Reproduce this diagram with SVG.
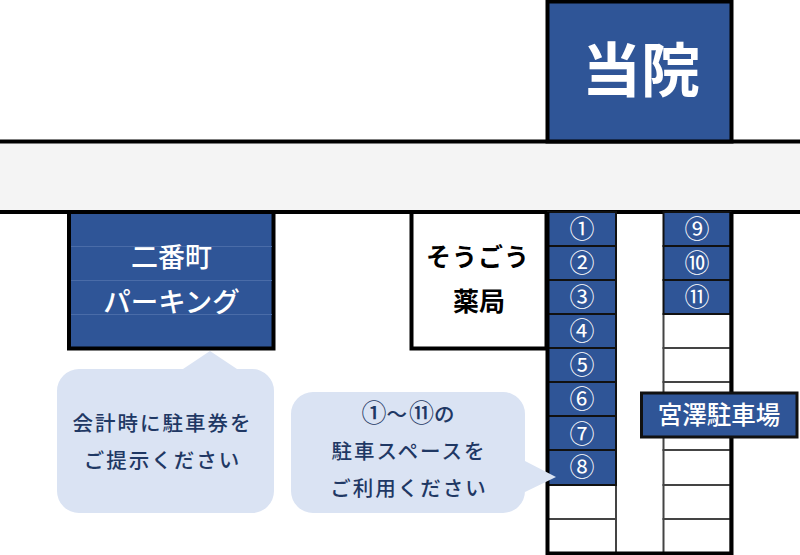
<svg xmlns="http://www.w3.org/2000/svg" width="800" height="555" viewBox="0 0 800 555">
<style>
text{font-family:"Noto Sans CJK JP","Noto Sans",sans-serif;text-anchor:middle}
.w{fill:#fff;font-weight:500}
.b{fill:#000;font-weight:700}
.n{fill:#fff;font-size:25px;font-weight:400}
.d{fill:#1f3864;font-size:20.500px;font-weight:500;letter-spacing:2px}
.c{font-size:25px;letter-spacing:0}
.slot{fill:#2f5597;stroke:#111;stroke-width:2}
.empty{fill:#fff;stroke:#444;stroke-width:2}
.bk{stroke:#000;stroke-width:4;fill:none}
.bub{fill:#dae3f3}
</style>
<rect width="800" height="555" fill="#fff"/>
<g id="road">
<rect x="0" y="141" width="800" height="71" fill="#f4f4f4"/>
<path class="bk" d="M0 141.500H800M0 212H800"/>
</g>
<g id="hospital">
<rect x="547.500" y="1.500" width="184" height="140" fill="#2f5597" stroke="#000" stroke-width="4"/>
<text class="w" style="font-weight:700" x="641" y="92" font-size="59">当院</text>
</g>
<g id="parking">
<rect x="69" y="212" width="204.500" height="136.500" fill="#2f5597" stroke="#000" stroke-width="4"/>
<path d="M71 246.500H272M71 280.500H272M71 314.500H272" stroke="#4a6ca8" stroke-width="1"/>
<text class="w" x="171.500" y="267" font-size="27">二番町</text>
<text class="w" x="171.500" y="312" font-size="27.500">パーキング</text>
</g>
<g id="pharmacy">
<rect x="411.500" y="212" width="135" height="136.500" fill="#fff" stroke="#000" stroke-width="4"/>
<text class="b" x="478" y="266" font-size="25" letter-spacing="1">そうごう</text>
<text class="b" x="479" y="311" font-size="26">薬局</text>
</g>
<g id="lot-left">
<rect class="empty" x="548" y="485" width="68" height="34"/>
<rect class="empty" x="548" y="519" width="68" height="34"/>
<rect class="slot" x="548" y="212" width="68" height="34"/>
<rect class="slot" x="548" y="246" width="68" height="34"/>
<rect class="slot" x="548" y="280" width="68" height="34"/>
<rect class="slot" x="548" y="314" width="68" height="34"/>
<rect class="slot" x="548" y="348" width="68" height="34"/>
<rect class="slot" x="548" y="382" width="68" height="34"/>
<rect class="slot" x="548" y="416" width="68" height="34"/>
<rect class="slot" x="548" y="450" width="68" height="35"/>
<path class="bk" d="M547.500 212V555"/>
<text class="n" x="582" y="238">①</text>
<text class="n" x="582" y="272">②</text>
<text class="n" x="582" y="306">③</text>
<text class="n" x="582" y="340">④</text>
<text class="n" x="582" y="374">⑤</text>
<text class="n" x="582" y="408">⑥</text>
<text class="n" x="582" y="443">⑦</text>
<text class="n" x="582" y="476">⑧</text>
</g>
<g id="lot-right">
<rect class="empty" x="663.500" y="314" width="67" height="34"/>
<rect class="empty" x="663.500" y="348" width="67" height="34"/>
<rect class="empty" x="663.500" y="382" width="67" height="34"/>
<rect class="empty" x="663.500" y="416" width="67" height="34"/>
<rect class="empty" x="663.500" y="450" width="67" height="35"/>
<rect class="empty" x="663.500" y="485" width="67" height="34"/>
<rect class="empty" x="663.500" y="519" width="67" height="34"/>
<rect class="slot" x="663.500" y="212" width="67" height="34"/>
<rect class="slot" x="663.500" y="246" width="67" height="34"/>
<rect class="slot" x="663.500" y="280" width="67" height="34"/>
<path class="bk" d="M731.500 212V555M546 553.500H733"/>
<text class="n" x="697" y="238">⑨</text>
<text class="n" x="697" y="272">⑩</text>
<text class="n" x="697" y="306">⑪</text>
</g>
<g id="miyazawa">
<rect x="641.500" y="393" width="155.500" height="44" fill="#2f5597" stroke="#111" stroke-width="3"/>
<text class="w" x="719" y="424" font-size="24.500">宮澤駐車場</text>
</g>
<g id="bubble-parking">
<path class="bub" d="M79 369H183L210 351L237 369H252A22 22 0 0 1 274 391V491A22 22 0 0 1 252 513H79A22 22 0 0 1 57 491V391A22 22 0 0 1 79 369Z"/>
<text class="d" x="162.500" y="431">会計時に駐車券を</text>
<text class="d" x="162.500" y="468">ご提示ください</text>
</g>
<g id="bubble-lot">
<path class="bub" d="M313 392H503A22 22 0 0 1 525 414V461L556 477L525 492V491A22 22 0 0 1 503 513H313A22 22 0 0 1 291 491V414A22 22 0 0 1 313 392Z"/>
<text class="d" x="409" y="422"><tspan class="c">①</tspan>～<tspan class="c">⑪</tspan>の</text>
<text class="d" x="409" y="459">駐車スペースを</text>
<text class="d" x="409" y="496">ご利用ください</text>
</g>
</svg>
